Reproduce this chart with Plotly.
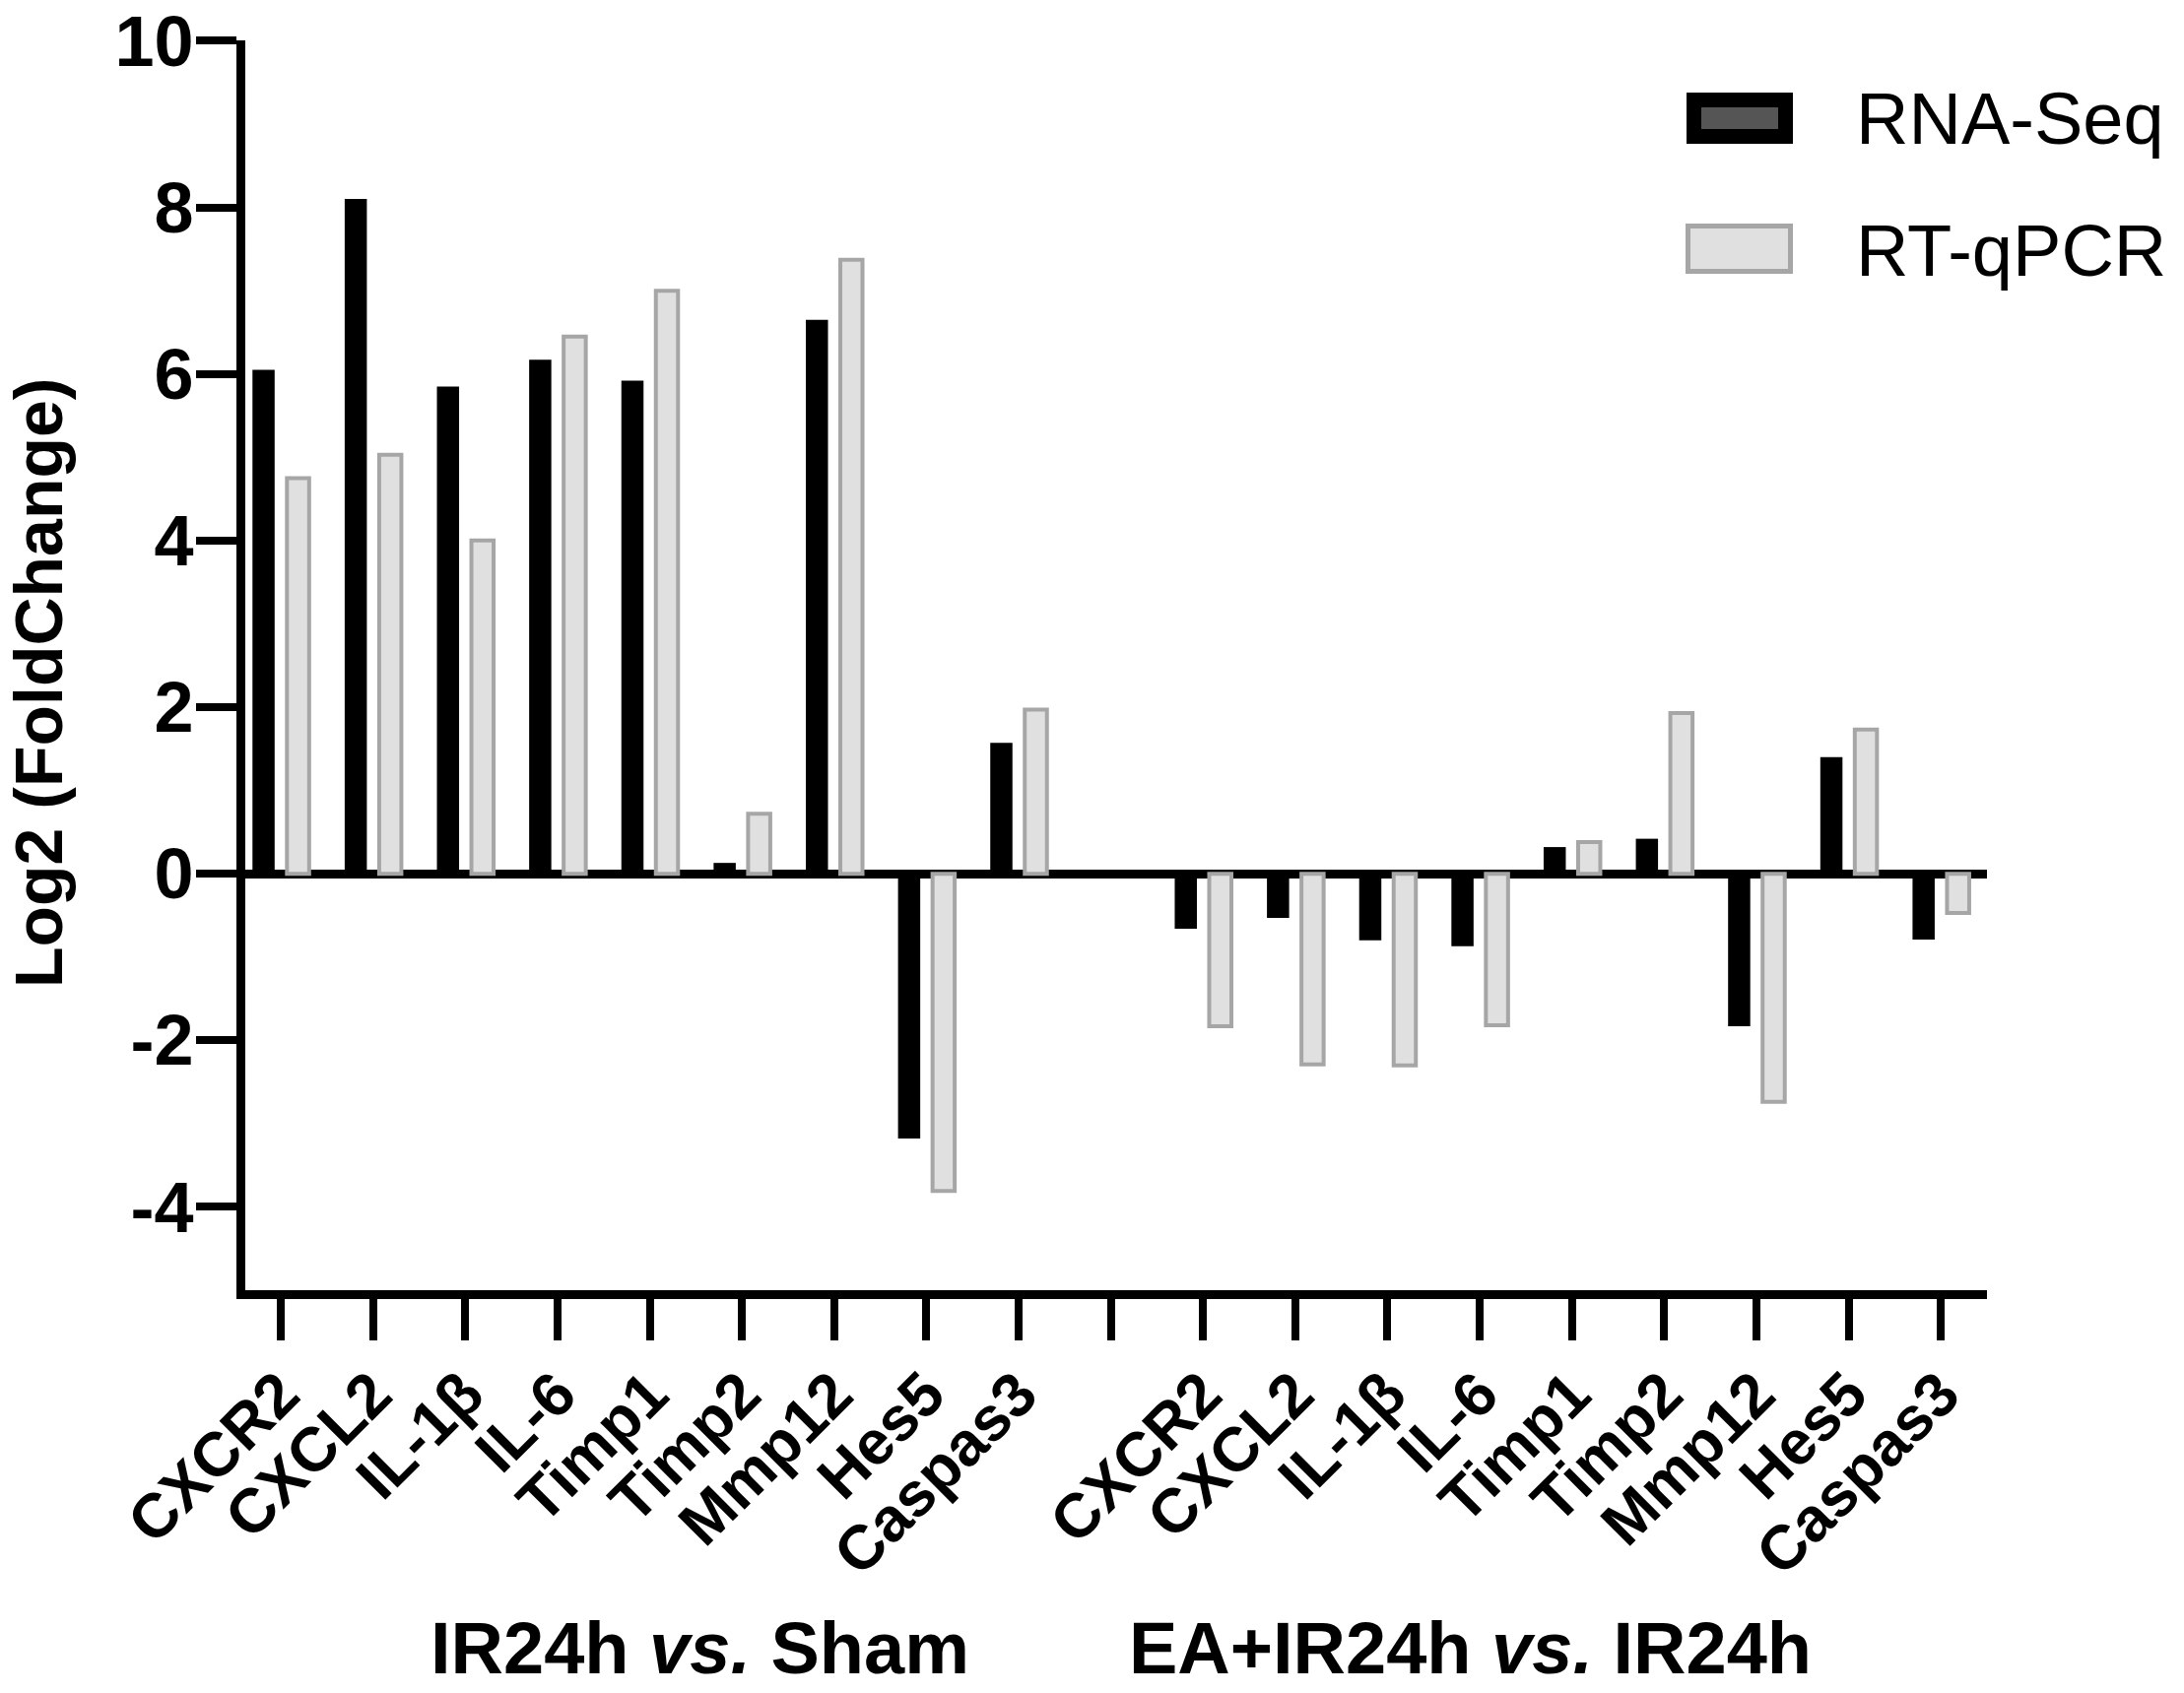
import plotly.graph_objects as go

genes = ["CXCR2", "CXCL2", "IL-1β", "IL-6", "Timp1", "Timp2", "Mmp12", "Hes5", "Caspas3"]
group_labels = ["IR24h <i>vs.</i> Sham", "EA+IR24h <i>vs.</i> IR24h"]

rnaseq_g1 = [6.05, 8.1, 5.85, 6.17, 5.92, 0.13, 6.65, -3.18, 1.57]
rtqpcr_g1 = [4.75, 5.03, 4.0, 6.45, 7.0, 0.72, 7.37, -3.81, 1.97]
rnaseq_g2 = [-0.66, -0.53, -0.80, -0.87, 0.32, 0.42, -1.83, 1.40, -0.79]
rtqpcr_g2 = [-1.83, -2.29, -2.30, -1.82, 0.38, 1.93, -2.74, 1.73, -0.47]

y_ticks = [-4, -2, 0, 2, 4, 6, 8, 10]
y_ticktext = ["-4", "-2", "0", "2", "4", "6", "8", "10"]

# slot positions: group 1 at 0..8, blank slot 9, group 2 at 10..18
x1 = list(range(len(genes)))
x2 = [i + len(genes) + 1 for i in range(len(genes))]
xs = x1 + x2
tickvals = list(range(2 * len(genes) + 1))
ticktext = genes + [""] + genes

FONT = "Liberation Sans, Arial, sans-serif"

fig = go.Figure()
fig.add_trace(go.Bar(x=xs, y=rnaseq_g1 + rnaseq_g2, name="RNA-Seq",
                     marker=dict(color="black", line=dict(color="black", width=0))))
fig.add_trace(go.Bar(x=xs, y=rtqpcr_g1 + rtqpcr_g2, name="RT-qPCR",
                     marker=dict(color="#e0e0e0", line=dict(color="#a6a6a6", width=4))))

L, R, T, B = 249, 2017, 41, 1310
W, H = 2217, 1719
def px(xp):
    return (xp - L) / (R - L)
def py(yp):
    return (B - yp) / (B - T)

fig.update_layout(
    width=W, height=H,
    margin=dict(l=L, r=W - R, t=T, b=H - B, autoexpand=False),
    paper_bgcolor="white", plot_bgcolor="white",
    barmode="group", bargap=0.252, bargroupgap=0.357,
    showlegend=False,
    font=dict(family=FONT, color="black"),
)
fig.update_xaxes(
    range=[-0.385, 18.5], tickmode="array", tickvals=tickvals, ticktext=ticktext,
    tickangle=-45, tickfont=dict(size=63, weight="bold", family=FONT),
    ticks="outside", ticklen=42, tickwidth=8, tickcolor="black",
    showline=True, linecolor="black", linewidth=9, ticklabelstandoff=-8,
    showgrid=False, zeroline=False, automargin=False, ticklabeloverflow="allow",
)
fig.update_yaxes(
    range=[-5, 10.005], tickmode="array", tickvals=y_ticks, ticktext=y_ticktext,
    tickfont=dict(size=72, weight="bold", family=FONT),
    ticks="outside", ticklen=41, tickwidth=8, tickcolor="black",
    showline=True, linecolor="black", linewidth=9, ticklabelstandoff=-12,
    showgrid=False, zeroline=True, zerolinecolor="black", zerolinewidth=9,
    automargin=False, ticklabeloverflow="allow",
)

# y-axis title
fig.add_annotation(text="<b>Log2 (FoldChange)</b>", xref="paper", yref="paper",
                   x=px(39), y=py(694), textangle=-90, showarrow=False,
                   xanchor="center", yanchor="middle",
                   font=dict(size=68, family=FONT, color="black"))

# group labels
for gx, lab in zip([4.54, 12.9], group_labels):
    fig.add_annotation(text="<b>" + lab + "</b>", xref="x", yref="paper",
                       x=gx, y=py(1717), showarrow=False,
                       xanchor="center", yanchor="bottom",
                       font=dict(size=74, family=FONT, color="black"))

# custom legend
fig.add_shape(type="rect", xref="paper", yref="paper",
              x0=px(1719.5), x1=px(1812.5), y0=py(101.5), y1=py(138.5),
              fillcolor="#555555", line=dict(color="black", width=15))
fig.add_shape(type="rect", xref="paper", yref="paper",
              x0=px(1713.5), x1=px(1817.5), y0=py(229.5), y1=py(275.5),
              fillcolor="#e0e0e0", line=dict(color="#a6a6a6", width=5))
fig.add_annotation(text="RNA-Seq", xref="paper", yref="paper", x=px(1882), y=py(121),
                   xanchor="left", yanchor="middle", showarrow=False,
                   font=dict(size=74, family=FONT, color="black"))
fig.add_annotation(text="RT-qPCR", xref="paper", yref="paper", x=px(1882), y=py(254),
                   xanchor="left", yanchor="middle", showarrow=False,
                   font=dict(size=74, family=FONT, color="black"))

fig.write_html("out.html", config={"displayModeBar": False},
               post_script="document.body.style.margin='0';document.body.style.overflow='hidden';")
